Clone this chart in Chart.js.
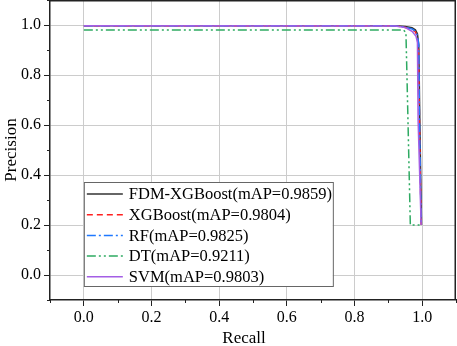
<!DOCTYPE html>
<html lang="en">
<head>
    <meta charset="UTF-8">
    <title>Precision-Recall</title>
    <script src="https://cdn.jsdelivr.net/npm/chart.js"></script>
    <style>
        html, body { margin: 0; padding: 0; background: #fff; }
        #wrap { width: 457px; height: 346px; }
    </style>
</head>
<body>
    <div id="wrap"><canvas id="prChart"></canvas></div>

    <script>
        // axis ticks
        var tickValues = [0.0, 0.2, 0.4, 0.6, 0.8, 1.0];

        // series (recall / precision pairs)
        var labels = [
            "FDM-XGBoost(mAP=0.9859)",
            "XGBoost(mAP=0.9804)",
            "RF(mAP=0.9825)",
            "DT(mAP=0.9211)",
            "SVM(mAP=0.9803)"
        ];

        var fdmRecall    = [0, 0.90, 0.93, 0.95, 0.97, 0.98, 0.986, 0.99, 0.993, 0.998];
        var fdmPrecision = [0.997, 0.997, 0.996, 0.994, 0.989, 0.981, 0.965, 0.92, 0.62, 0.2];

        var xgbRecall    = [0, 0.90, 0.93, 0.95, 0.97, 0.98, 0.986, 0.989, 0.992, 0.997];
        var xgbPrecision = [0.997, 0.997, 0.995, 0.99, 0.982, 0.972, 0.955, 0.92, 0.62, 0.2];

        var rfRecall     = [0, 0.90, 0.93, 0.95, 0.97, 0.98, 0.986, 0.99, 0.992, 0.997];
        var rfPrecision  = [0.997, 0.997, 0.995, 0.991, 0.984, 0.975, 0.958, 0.92, 0.62, 0.2];

        var dtRecall     = [0, 0.945, 0.952, 0.955, 0.965, 0.998];
        var dtPrecision  = [0.98, 0.98, 0.97, 0.8, 0.2, 0.2];

        var svmRecall    = [0, 0.92, 0.95, 0.97, 0.982, 0.986, 0.988, 0.997];
        var svmPrecision = [0.997, 0.996, 0.99, 0.975, 0.955, 0.93, 0.62, 0.2];

        var colors = ["#333333", "#ff2020", "#1f78ff", "#2eaa62", "#a45ee5"];
        var dashes = [[], [6, 4], [9, 3, 2, 3], [9, 3, 2, 3, 2, 3], []];

        function pairs(xs, ys) {
            return xs.map(function (x, i) { return { x: x, y: ys[i] }; });
        }

        var series = [
            pairs(fdmRecall, fdmPrecision),
            pairs(xgbRecall, xgbPrecision),
            pairs(rfRecall, rfPrecision),
            pairs(dtRecall, dtPrecision),
            pairs(svmRecall, svmPrecision)
        ];

        var SERIF = "'Liberation Serif', 'Times New Roman', serif";

        var datasets = series.map(function (pts, i) {
            return {
                label: labels[i],
                data: pts,
                borderColor: colors[i],
                borderWidth: 1.5,
                borderDash: dashes[i],
                pointRadius: 0,
                fill: false,
                tension: 0
            };
        });
        // draw FDM on top
        datasets.reverse();

        // frame, minor ticks, axis titles and the boxed legend
        var extras = {
            id: 'extras',
            afterDraw: function (chart) {
                var c = chart.ctx, a = chart.chartArea;
                var xs = chart.scales.x, ys = chart.scales.y;
                c.save();
                c.strokeStyle = '#222';
                c.lineWidth = 1.5;
                // top & right frame
                c.beginPath();
                c.moveTo(a.left, a.top + 0.75);
                c.lineTo(a.right - 0.75, a.top + 0.75);
                c.lineTo(a.right - 0.75, a.bottom);
                c.stroke();
                // minor ticks
                c.lineWidth = 1;
                for (var k = -1; k <= 11; k += 2) {
                    var v = k / 10;
                    var px = Math.round(xs.getPixelForValue(v)) + 0.5;
                    c.beginPath();
                    c.moveTo(px, a.bottom);
                    c.lineTo(px, a.bottom + 3);
                    c.stroke();
                    var py = Math.round(ys.getPixelForValue(v)) + 0.5;
                    c.beginPath();
                    c.moveTo(a.left, py);
                    c.lineTo(a.left - 3, py);
                    c.stroke();
                }

                // axis titles
                c.fillStyle = '#000';
                c.font = '17px ' + SERIF;
                c.textAlign = 'center';
                c.textBaseline = 'middle';
                c.fillText('Recall', 244, 339);
                c.save();
                c.translate(12, (a.top + a.bottom) / 2);
                c.rotate(-Math.PI / 2);
                c.fillText('Precision', 0, 0);
                c.restore();

                // legend
                var bx = xs.getPixelForValue(0), by = 182, bw = 249, bh = 104;
                c.fillStyle = '#fff';
                c.fillRect(bx, by, bw, bh);
                c.strokeStyle = '#666';
                c.lineWidth = 1;
                c.strokeRect(bx + 0.5, by + 0.5, bw, bh);
                c.font = '16.5px ' + SERIF;
                c.textAlign = 'left';
                c.textBaseline = 'middle';
                for (var i = 0; i < labels.length; i++) {
                    var ry = by + 12 + i * 20.7;
                    c.strokeStyle = colors[i];
                    c.lineWidth = 1.5;
                    c.setLineDash(dashes[i]);
                    c.beginPath();
                    c.moveTo(bx + 3, ry);
                    c.lineTo(bx + 39, ry);
                    c.stroke();
                    c.setLineDash([]);
                    c.fillStyle = '#000';
                    c.fillText(labels[i], bx + 45, ry + 1);
                }
                c.restore();
            }
        };

        function fixedTicks(scale) {
            scale.ticks = tickValues.map(function (v) { return { value: v }; });
        }

        function noPad(s) {
            s.paddingTop = 0;
            s.paddingBottom = 0;
            s.paddingLeft = 0;
            s.paddingRight = 0;
        }

        new Chart(document.getElementById('prChart'), {
            type: 'line',
            data: { datasets: datasets },
            plugins: [extras],
            options: {
                responsive: true,
                maintainAspectRatio: false,
                animation: false,
                layout: { padding: { top: 0, right: 1, left: 0, bottom: 0 } },
                plugins: {
                    legend: { display: false },
                    tooltip: { enabled: false }
                },
                scales: {
                    x: {
                        type: 'linear',
                        min: -0.1,
                        max: 1.1,
                        afterBuildTicks: fixedTicks,
                        afterFit: function (s) { s.height = 46; noPad(s); },
                        border: { color: '#222', width: 1.5 },
                        grid: { color: '#cccccc', lineWidth: 1, tickColor: '#222', tickLength: 6 },
                        ticks: {
                            color: '#000',
                            font: { family: SERIF, size: 16 },
                            maxRotation: 0,
                            padding: 2,
                            callback: function (v) { return v.toFixed(1); }
                        }
                    },
                    y: {
                        type: 'linear',
                        min: -0.1,
                        max: 1.1,
                        afterBuildTicks: fixedTicks,
                        afterFit: function (s) { s.width = 50; noPad(s); },
                        border: { color: '#222', width: 1.5 },
                        grid: { color: '#cccccc', lineWidth: 1, tickColor: '#222', tickLength: 6 },
                        ticks: {
                            color: '#000',
                            font: { family: SERIF, size: 16 },
                            padding: 3,
                            callback: function (v) { return v.toFixed(1); }
                        }
                    }
                }
            }
        });
    </script>
</body>
</html>
